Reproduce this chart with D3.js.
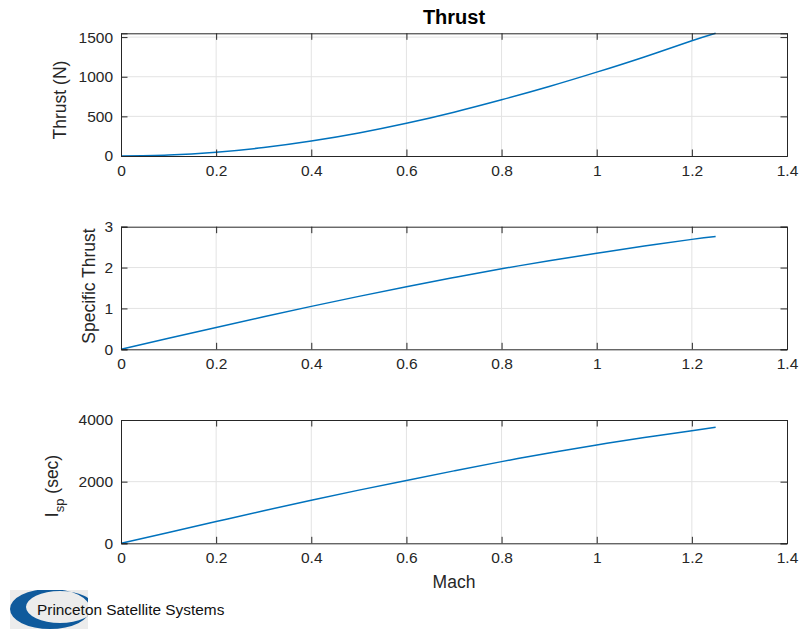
<!DOCTYPE html>
<html>
<head>
<meta charset="utf-8">
<script src="https://cdn.jsdelivr.net/npm/d3@7"></script>
<style>
  body { margin: 0; background: #fff; }
  svg { display: block; font-family: "Liberation Sans", Arial, Helvetica, sans-serif; }
</style>
</head>
<body>
<svg id="chart" width="802" height="630"></svg>
<script>
// Mach number samples
const mach = [0, 0.1, 0.2, 0.3, 0.4, 0.5, 0.6, 0.7, 0.8, 0.9, 1.0, 1.1, 1.2, 1.25];
// Thrust (N)
const thrust = [0, 12, 48, 107, 189, 291, 413, 553, 709, 877, 1058, 1250, 1453, 1548];
// Specific thrust (dimensionless)
const specificThrust = [0, 0.27, 0.535, 0.795, 1.05, 1.295, 1.53, 1.755, 1.97, 2.165, 2.35, 2.525, 2.69, 2.76];
// Specific impulse (sec)
const isp = [0, 353, 705, 1057, 1400, 1725, 2040, 2350, 2650, 2930, 3190, 3430, 3655, 3765];

const xTicks = [0, 0.2, 0.4, 0.6, 0.8, 1, 1.2, 1.4];
const thrustTicks = [0, 500, 1000, 1500];
const specTicks = [0, 1, 2, 3];
const ispTicks = [0, 2000, 4000];

const svg = d3.select("#chart");
const left = 121, right = 787;
const axisColor = "#262626", gridColor = "#e3e3e3", lineColor = "#0072BD";
const tickLen = 6.5;
const tickFont = 15.5, labelFont = 17.5;

const x = d3.scaleLinear().domain([0, 1.4]).range([left, right]);

function panel(top, bottom, values, yMax, yTicks) {
  const y = d3.scaleLinear().domain([0, yMax]).range([bottom, top]);
  const g = svg.append("g");

  // grid
  g.append("g").selectAll("line").data(xTicks.slice(1, -1)).join("line")
    .attr("x1", d => x(d)).attr("x2", d => x(d)).attr("y1", top).attr("y2", bottom)
    .attr("stroke", gridColor).attr("stroke-width", 1);
  g.append("g").selectAll("line").data(yTicks.filter(t => t > 0 && t < yMax)).join("line")
    .attr("x1", left).attr("x2", right).attr("y1", d => y(d)).attr("y2", d => y(d))
    .attr("stroke", gridColor).attr("stroke-width", 1);

  // data line
  const line = d3.line().x((d, i) => x(mach[i])).y(d => y(d)).curve(d3.curveNatural);
  g.append("path").datum(values).attr("d", line)
    .attr("fill", "none").attr("stroke", lineColor).attr("stroke-width", 1.5);

  // boxed axes: labelled bottom/left, tick-only top/right
  const xb = d3.axisBottom(x).tickValues(xTicks).tickSize(-tickLen).tickPadding(9)
    .tickFormat(d3.format("~g"));
  const xt = d3.axisTop(x).tickValues(xTicks).tickSize(-tickLen).tickFormat("");
  const yl = d3.axisLeft(y).tickValues(yTicks).tickSize(-tickLen).tickPadding(8)
    .tickFormat(d3.format("~g"));
  const yr = d3.axisRight(y).tickValues(yTicks).tickSize(-tickLen).tickFormat("");

  const styleAxis = sel => {
    sel.selectAll("path.domain").attr("stroke", axisColor).attr("stroke-width", 1);
    sel.selectAll(".tick line").attr("stroke", axisColor).attr("stroke-width", 1);
    sel.selectAll("text").attr("fill", axisColor).attr("font-size", tickFont)
      .attr("font-family", "'Liberation Sans', Arial, sans-serif");
  };
  g.append("g").attr("transform", `translate(0,${bottom})`).call(xb).call(styleAxis);
  g.append("g").attr("transform", `translate(0,${top})`).call(xt).call(styleAxis);
  g.append("g").attr("transform", `translate(${left},0)`).call(yl).call(styleAxis);
  g.append("g").attr("transform", `translate(${right},0)`).call(yr).call(styleAxis);
  return y;
}

panel(33.3, 156, thrust, d3.max(thrust), thrustTicks);
panel(226.7, 349.3, specificThrust, 3, specTicks);
panel(420, 543.3, isp, 4000, ispTicks);

// title
svg.append("text").attr("x", 454).attr("y", 24).attr("text-anchor", "middle")
  .attr("font-size", 20).attr("font-weight", "bold").attr("fill", "#000").text("Thrust");

// y labels
svg.append("text").attr("transform", "translate(66,100) rotate(-90)").attr("text-anchor", "middle")
  .attr("font-size", labelFont).attr("fill", axisColor).text("Thrust (N)");
svg.append("text").attr("transform", "translate(94.5,286) rotate(-90)").attr("text-anchor", "middle")
  .attr("font-size", labelFont).attr("fill", axisColor).text("Specific Thrust");
const ispLabel = svg.append("text").attr("transform", "translate(58,486) rotate(-90)")
  .attr("text-anchor", "middle").attr("font-size", labelFont).attr("fill", axisColor);
ispLabel.append("tspan").text("I");
ispLabel.append("tspan").attr("font-size", 13).attr("dy", 6).text("sp");
ispLabel.append("tspan").attr("dy", -6).text(" (sec)");

// x label
svg.append("text").attr("x", 454).attr("y", 588).attr("text-anchor", "middle")
  .attr("font-size", labelFont).attr("fill", axisColor).text("Mach");

// company mark
const logo = svg.append("g");
logo.append("clipPath").attr("id", "logoClip").append("rect")
  .attr("x", 10).attr("y", 590).attr("width", 78).attr("height", 39);
logo.append("rect").attr("x", 10).attr("y", 590).attr("width", 78).attr("height", 39).attr("fill", "#ececec");
logo.append("path").attr("clip-path", "url(#logoClip)")
  .attr("fill-rule", "evenodd").attr("fill", "#0f5a9c")
  .attr("d", "M 10 609 A 40 20 0 1 0 90 609 A 40 20 0 1 0 10 609 Z " +
             "M 26 607 A 34 16 0 1 0 94 607 A 34 16 0 1 0 26 607 Z");
svg.append("text").attr("x", 37).attr("y", 615).attr("font-size", 15.4).attr("fill", "#111")
  .text("Princeton Satellite Systems");
</script>
</body>
</html>
